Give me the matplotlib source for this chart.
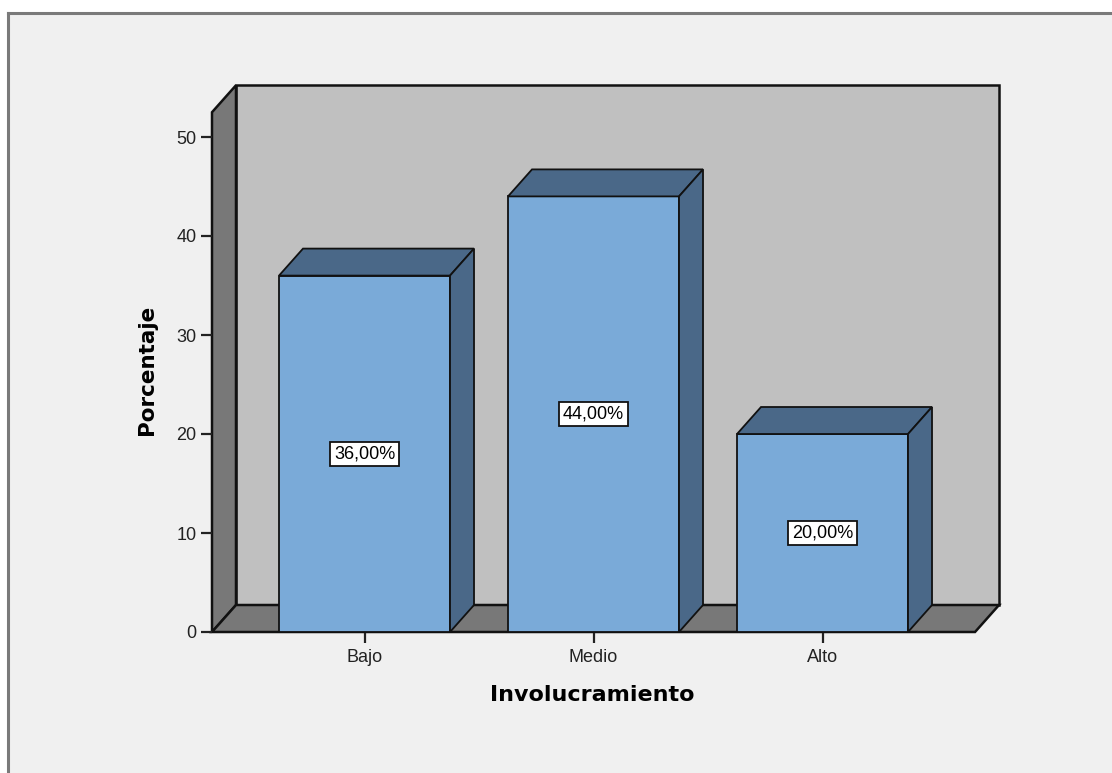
import matplotlib.pyplot as plt
from matplotlib.patches import Polygon, Rectangle
from matplotlib.lines import Line2D

categories = ["Bajo", "Medio", "Alto"]
percentages = [36.0, 44.0, 20.0]
y_ticks = [0, 10, 20, 30, 40, 50]

W, H = 1112, 773
fig = plt.figure(figsize=(W / 100, H / 100), dpi=100)
fig.patch.set_facecolor("white")

# light gray panel with a gray frame (top and left edges visible)
fig.patches.append(Rectangle((8 / W, 0), 1.0, (H - 13) / H, transform=fig.transFigure,
                             facecolor="#f0f0f0", edgecolor="none", zorder=-10))
fig.lines.append(Line2D([8 / W, 1], [(H - 13) / H] * 2, transform=fig.transFigure,
                        color="#7a7a7a", lw=2.2, zorder=-5))
fig.lines.append(Line2D([8 / W] * 2, [0, (H - 13) / H], transform=fig.transFigure,
                        color="#7a7a7a", lw=2.2, zorder=-5))

# axes placed in pixels: front-left corner at (212, 632), back-top at (998, 85)
ax = fig.add_axes([212 / W, (H - 632) / H, (998 - 212) / W, (632 - 85) / H])
ax.set_facecolor("none")
x0, x1 = -0.666, 2.666
ymax = 52.5
dx, dy = 24 / 229, 27 / 9.9
ax.set_xlim(x0, x0 + 786 / 229)
ax.set_ylim(0, 547 / 9.9)
for s in ax.spines.values():
    s.set_visible(False)

wall_back = "#c0c0c0"
wall_side = "#787878"
front = "#7aaad8"
dark = "#4a6888"

def poly(pts, fc, lw=1.0, z=1):
    ax.add_patch(Polygon(pts, closed=True, facecolor=fc, edgecolor="#111111",
                         lw=lw, clip_on=False, zorder=z, joinstyle="miter"))

# back wall, left wall, floor
poly([(x0 + dx, dy), (x1 + dx, dy), (x1 + dx, ymax + dy), (x0 + dx, ymax + dy)], wall_back, 1.8)
poly([(x0, 0), (x0 + dx, dy), (x0 + dx, ymax + dy), (x0, ymax)], wall_side, 1.8)
poly([(x0, 0), (x1, 0), (x1 + dx, dy), (x0 + dx, dy)], wall_side, 1.8)

# 3D bars
bw = 171 / 229
for i, v in enumerate(percentages):
    a, b = i - bw / 2, i + bw / 2
    poly([(a, 0), (b, 0), (b, v), (a, v)], front, 1.3, 3)
    poly([(a, v), (b, v), (b + dx, v + dy), (a + dx, v + dy)], dark, 1.3, 3)
    poly([(b, 0), (b + dx, dy), (b + dx, v + dy), (b, v)], dark, 1.3, 3)
    ax.text(i, v / 2, f"{v:.2f}%".replace(".", ","), ha="center", va="center",
            fontsize=13, family="Liberation Sans", zorder=5,
            bbox=dict(boxstyle="square,pad=0.2", facecolor="white",
                      edgecolor="#111111", lw=1.3))

ax.set_xticks(range(len(categories)))
ax.set_xticklabels(categories)
ax.set_yticks(y_ticks)
ax.tick_params(axis="both", length=8, width=1.6, color="#222222",
               labelsize=13, labelcolor="#222222")
ax.tick_params(axis="y", pad=3)
ax.tick_params(axis="x", pad=4)
for lab in ax.get_xticklabels() + ax.get_yticklabels():
    lab.set_family("Liberation Sans")

ax.set_xlabel("Involucramiento", fontsize=16, fontweight="bold", family="DejaVu Sans")
ax.xaxis.set_label_coords((592.5 - 212) / 786, (632 - 695) / 547)
ax.xaxis.label.set_va("center")
ax.set_ylabel("Porcentaje", fontsize=15.5, fontweight="bold", family="DejaVu Sans")
ax.yaxis.set_label_coords((147 - 212) / 786, (632 - 370) / 547)
ax.yaxis.label.set_va("center")

fig.savefig("out.png", dpi=100, facecolor=fig.get_facecolor())
